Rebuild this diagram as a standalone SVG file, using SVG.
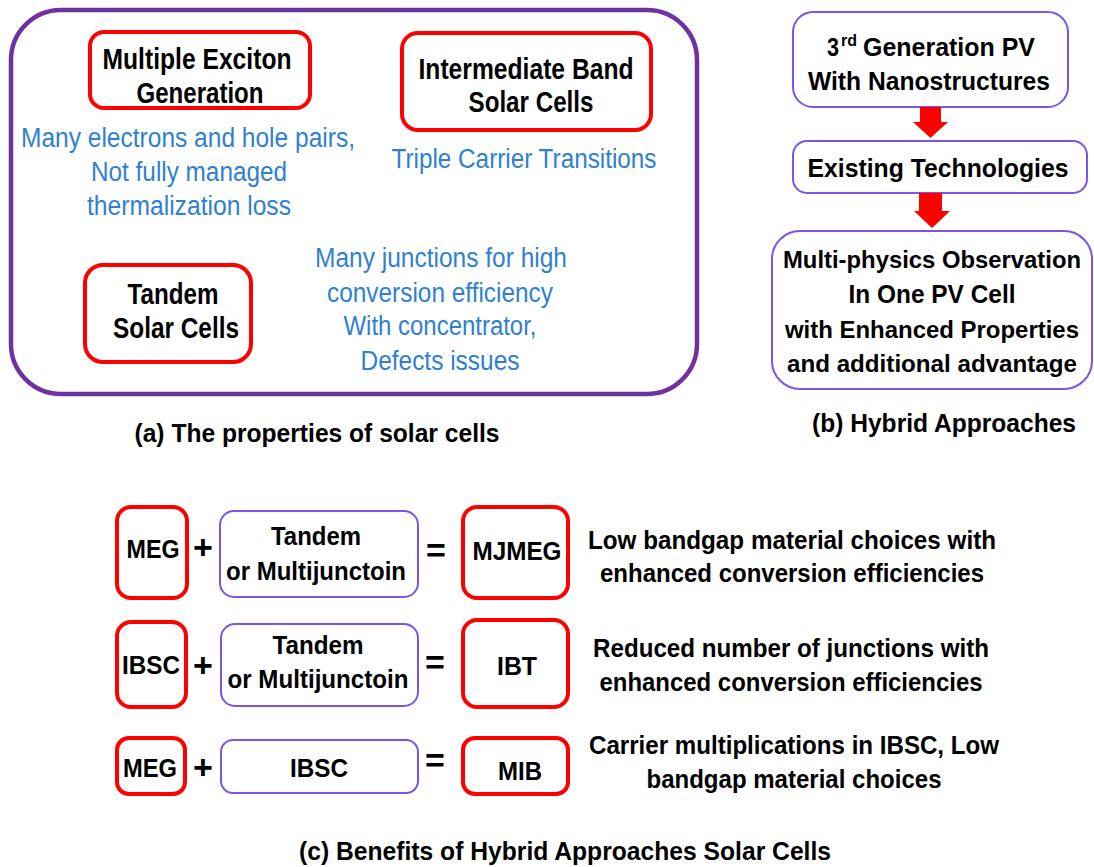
<svg xmlns="http://www.w3.org/2000/svg" width="1094" height="867" viewBox="0 0 1094 867">
<style>
text{font-family:"Liberation Sans",Arial,sans-serif;}
.b{font-weight:bold;fill:#000;text-anchor:middle;}
.a{font-size:29px;}
.m{font-size:26px;}
.s{font-size:24.5px;}
.blue{fill:#2F80D2;font-size:27px;text-anchor:middle;}
.red{fill:#fff;stroke:#FF0000;stroke-width:4;}
.vio{fill:#fff;stroke:#7A55E8;stroke-width:2;}
.frame{fill:#fff;stroke:#7030A0;stroke-width:4.5;}
.arr{fill:#FF0000;}
.op{font-weight:bold;fill:#000;text-anchor:middle;font-size:34px;}
</style>
<rect width="1094" height="867" fill="#fff"/>

<g id="panel-a">
  <rect class="frame" x="11" y="10" width="686" height="384" rx="50"/>
  <g id="meg-a">
    <rect class="red" x="90" y="32" width="220" height="76" rx="14"/>
    <text class="b a" x="197" y="69" textLength="189" lengthAdjust="spacingAndGlyphs">Multiple Exciton</text>
    <text class="b a" x="200" y="103" textLength="127" lengthAdjust="spacingAndGlyphs">Generation</text>
  </g>
  <g id="ibsc-a">
    <rect class="red" x="402" y="33" width="249" height="97" rx="16"/>
    <text class="b a" x="526" y="79" textLength="215" lengthAdjust="spacingAndGlyphs">Intermediate Band</text>
    <text class="b a" x="531" y="112" textLength="125" lengthAdjust="spacingAndGlyphs">Solar Cells</text>
  </g>
  <g id="tandem-a">
    <rect class="red" x="85" y="265" width="166" height="97" rx="18"/>
    <text class="b a" x="173" y="304" textLength="91" lengthAdjust="spacingAndGlyphs">Tandem</text>
    <text class="b a" x="176" y="338" textLength="126" lengthAdjust="spacingAndGlyphs">Solar Cells</text>
  </g>
  <g id="meg-desc">
    <text class="blue" x="188" y="147" textLength="334" lengthAdjust="spacingAndGlyphs">Many electrons and hole pairs,</text>
    <text class="blue" x="189" y="181" textLength="196" lengthAdjust="spacingAndGlyphs">Not fully managed</text>
    <text class="blue" x="189" y="215" textLength="204" lengthAdjust="spacingAndGlyphs">thermalization loss</text>
  </g>
  <g id="ibsc-desc">
    <text class="blue" x="524" y="168" textLength="265" lengthAdjust="spacingAndGlyphs">Triple Carrier Transitions</text>
  </g>
  <g id="tandem-desc">
    <text class="blue" x="441" y="267" textLength="252" lengthAdjust="spacingAndGlyphs">Many junctions for high</text>
    <text class="blue" x="440" y="302" textLength="226" lengthAdjust="spacingAndGlyphs">conversion efficiency</text>
    <text class="blue" x="440" y="335" textLength="193" lengthAdjust="spacingAndGlyphs">With concentrator,</text>
    <text class="blue" x="440" y="370" textLength="159" lengthAdjust="spacingAndGlyphs">Defects issues</text>
  </g>
  <text class="b m" x="317" y="442" textLength="365" lengthAdjust="spacingAndGlyphs">(a) The properties of solar cells</text>
</g>

<g id="panel-b">
  <g id="gen3">
    <rect class="vio" x="793" y="12" width="275" height="95" rx="20"/>
    <text class="b m" x="833" y="56" textLength="12" lengthAdjust="spacingAndGlyphs">3</text>
    <text class="b" x="849" y="46" font-size="16" textLength="16" lengthAdjust="spacingAndGlyphs">rd</text>
    <text class="b m" x="949" y="56" textLength="172" lengthAdjust="spacingAndGlyphs">Generation PV</text>
    <text class="b m" x="929" y="90" textLength="242" lengthAdjust="spacingAndGlyphs">With Nanostructures</text>
  </g>
  <g id="existing">
    <rect class="vio" x="793" y="141" width="294" height="52" rx="14"/>
    <text class="b m" x="938" y="177" textLength="261" lengthAdjust="spacingAndGlyphs">Existing Technologies</text>
  </g>
  <g id="multiphysics">
    <rect class="vio" x="772" y="231" width="320" height="158" rx="28"/>
    <text class="b s" x="932" y="268" textLength="298" lengthAdjust="spacingAndGlyphs">Multi-physics Observation</text>
    <text class="b m" x="932" y="303" textLength="167" lengthAdjust="spacingAndGlyphs">In One PV Cell</text>
    <text class="b s" x="932" y="338" textLength="294" lengthAdjust="spacingAndGlyphs">with Enhanced Properties</text>
    <text class="b s" x="932" y="372" textLength="290" lengthAdjust="spacingAndGlyphs">and additional advantage</text>
  </g>
  <text class="b m" x="944" y="432" textLength="264" lengthAdjust="spacingAndGlyphs">(b) Hybrid Approaches</text>
</g>

<g id="connectors">
  <polygon class="arr" points="920,107 941,107 941,122 948,122 930.5,138 913,122 920,122"/>
  <polygon class="arr" points="919,193 942,193 942,211 950,211 932,228 914,211 919,211"/>
</g>

<g id="panel-c">
  <g id="row1">
    <rect class="red" x="117" y="507" width="70" height="91" rx="14"/>
    <text class="b m" x="153" y="558" textLength="53" lengthAdjust="spacingAndGlyphs">MEG</text>
    <text class="op" x="203" y="559">+</text>
    <rect class="vio" x="220" y="511" width="198" height="86" rx="14"/>
    <text class="b m" x="316" y="545" textLength="90" lengthAdjust="spacingAndGlyphs">Tandem</text>
    <text class="b m" x="316" y="580" textLength="180" lengthAdjust="spacingAndGlyphs">or Multijunctoin</text>
    <text class="op" x="436" y="562">=</text>
    <rect class="red" x="463" y="507" width="105" height="91" rx="14"/>
    <text class="b m" x="517" y="560" textLength="89" lengthAdjust="spacingAndGlyphs">MJMEG</text>
    <text class="b m" x="792" y="549" textLength="408" lengthAdjust="spacingAndGlyphs">Low bandgap material choices with</text>
    <text class="b m" x="792" y="582" textLength="384" lengthAdjust="spacingAndGlyphs">enhanced conversion efficiencies</text>
  </g>
  <g id="row2">
    <rect class="red" x="117" y="622" width="69" height="85" rx="14"/>
    <text class="b m" x="151" y="674" textLength="58" lengthAdjust="spacingAndGlyphs">IBSC</text>
    <text class="op" x="203" y="677">+</text>
    <rect class="vio" x="221" y="624" width="197" height="82" rx="14"/>
    <text class="b m" x="318" y="654" textLength="91" lengthAdjust="spacingAndGlyphs">Tandem</text>
    <text class="b m" x="318" y="688" textLength="181" lengthAdjust="spacingAndGlyphs">or Multijunctoin</text>
    <text class="op" x="435" y="674">=</text>
    <rect class="red" x="463" y="620" width="105" height="87" rx="14"/>
    <text class="b m" x="517" y="675" textLength="40" lengthAdjust="spacingAndGlyphs">IBT</text>
    <text class="b m" x="791" y="657" textLength="396" lengthAdjust="spacingAndGlyphs">Reduced number of junctions with</text>
    <text class="b m" x="791" y="691" textLength="383" lengthAdjust="spacingAndGlyphs">enhanced conversion efficiencies</text>
  </g>
  <g id="row3">
    <rect class="red" x="117" y="738" width="68" height="56" rx="12"/>
    <text class="b m" x="150" y="777" textLength="54" lengthAdjust="spacingAndGlyphs">MEG</text>
    <text class="op" x="203" y="779">+</text>
    <rect class="vio" x="221" y="740" width="197" height="53" rx="12"/>
    <text class="b m" x="319" y="777" textLength="58" lengthAdjust="spacingAndGlyphs">IBSC</text>
    <text class="op" x="435" y="772">=</text>
    <rect class="red" x="463" y="738" width="105" height="56" rx="12"/>
    <text class="b m" x="520" y="780" textLength="44" lengthAdjust="spacingAndGlyphs">MIB</text>
    <text class="b m" x="794" y="754" textLength="410" lengthAdjust="spacingAndGlyphs">Carrier multiplications in IBSC, Low</text>
    <text class="b m" x="794" y="788" textLength="295" lengthAdjust="spacingAndGlyphs">bandgap material choices</text>
  </g>
  <text class="b m" x="565" y="860" textLength="532" lengthAdjust="spacingAndGlyphs">(c) Benefits of Hybrid Approaches Solar Cells</text>
</g>
</svg>
